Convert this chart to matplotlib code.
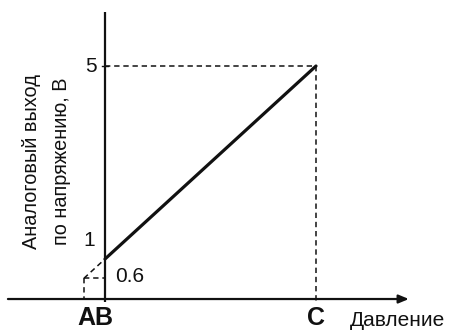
import matplotlib
matplotlib.use("Agg")
import matplotlib.pyplot as plt

# Schematic values
point_labels = ["A", "B", "C"]
pressure = [-0.1, 0.0, 1.0]      # A, B, C positions (normalized pressure)
voltage = [0.6, 1.0, 5.0]         # output at A, B, C
y_ticks = [1, 5]
y_base = 0.171                    # level of the drawn pressure axis

plt.rcParams['font.family'] = ['Liberation Sans', 'DejaVu Sans']

fig = plt.figure(figsize=(4.5, 3.34), dpi=100)
ax = fig.add_axes([0, 0, 1, 1])
ax.set_xlim(-0.4976, 1.635)
ax.set_ylim(-0.554, 6.368)
ax.axis('off')

k = '#111111'
xA, xB, xC = pressure
yA, yB, yC = voltage

# axes
ax.annotate('', xy=(1.44, y_base), xytext=(-0.46, y_base),
            arrowprops=dict(arrowstyle='-|>,head_length=0.6,head_width=0.25',
                            color=k, lw=1.6, shrinkA=0, shrinkB=0))
ax.plot([xB, xB], [0.10, 6.12], color=k, lw=1.6, solid_capstyle='butt')

# characteristic
ax.plot([xB, xC], [yB, yC], color=k, lw=2.3, solid_capstyle='round')

# dashed helpers
dkw = dict(color=k, lw=1.1, ls=(0, (3.5, 2.5)))
ax.plot([xB, xC], [yC, yC], **dkw)
ax.plot([xC, xC], [yC, y_base - 0.08], **dkw)
ax.plot([xA, xB], [yA, yB], **dkw)
ax.plot([xA, xB], [yA, yA], **dkw)
ax.plot([xA, xA], [yA, y_base], **dkw)
ax.plot([xB - 0.015, xB + 0.015], [yC, yC], color=k, lw=1.0)

# tick labels
ax.text(-0.038, yC, str(y_ticks[1]), fontsize=15, ha='right', va='center', color=k)
ax.text(-0.047, 1.394, str(y_ticks[0]), fontsize=15, ha='right', va='center', color=k)
ax.text(0.047, 0.648, '0.6', fontsize=15, ha='left', va='center', color=k)

ax.text(-0.047, -0.223, point_labels[0] + point_labels[1], fontsize=18,
        fontweight='bold', ha='center', va='center', color=k)
ax.text(xC, -0.223, point_labels[2], fontsize=18, fontweight='bold',
        ha='center', va='center', color=k)
ax.text(1.161, -0.264, 'Давление', fontsize=15, ha='left', va='center', color=k)

ax.text(-0.346, 3.02, 'Аналоговый выход', fontsize=14.3, rotation=90,
        ha='center', va='center', color=k)
ax.text(-0.204, 3.02, 'по напряжению, В', fontsize=14.3, rotation=90,
        ha='center', va='center', color=k)

fig.savefig('out.png', dpi=100)
